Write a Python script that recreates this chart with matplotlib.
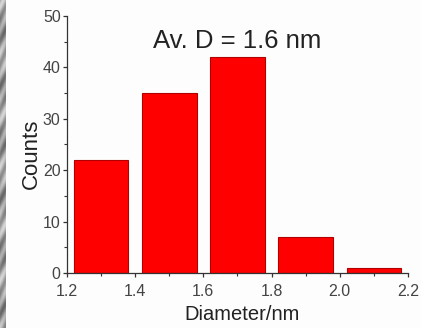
import numpy as np
import matplotlib
matplotlib.use("Agg")
import matplotlib.pyplot as plt

plt.rcParams['font.family'] = ['Liberation Sans', 'DejaVu Sans']

# Particle size histogram
bin_centers = [1.3, 1.5, 1.7, 1.9, 2.1]
counts = [22, 35, 42, 7, 1]
bin_width = 0.16
x_ticks = [1.2, 1.4, 1.6, 1.8, 2.0, 2.2]
y_ticks = [0, 10, 20, 30, 40, 50]

fig = plt.figure(figsize=(4.21, 3.28), dpi=100)
fig.patch.set_facecolor('#fdfdfd')

# textured grey strip along the left edge
strip = fig.add_axes([0, 0, 0.013, 1])
yy = np.linspace(0, 1, 328)[:, None]
xx = np.linspace(0, 1, 6)[None, :]
tex = 0.62 + 0.14 * np.sin(yy * 90 + xx * 3) + 0.08 * np.sin(yy * 37 + 1.3)
strip.imshow(tex, cmap='gray', vmin=0, vmax=1, aspect='auto', interpolation='bilinear')
strip.axis('off')

ax = fig.add_axes([0.159, 0.168, 0.810, 0.783])
ax.set_facecolor('#fdfdfd')
ax.bar(bin_centers, counts, width=bin_width, color='#ff0000', edgecolor='#b00000', linewidth=0.8)

ax.set_xlim(1.2, 2.2)
ax.set_ylim(0, 50)
ax.set_xticks(x_ticks)
ax.set_xticklabels([f"{v:.1f}" for v in x_ticks])
ax.set_yticks(y_ticks)
ax.set_xticks(np.arange(1.3, 2.2, 0.2), minor=True)
ax.set_yticks(np.arange(5, 50, 10), minor=True)

for s in ('top', 'right'):
    ax.spines[s].set_visible(False)
for s in ('left', 'bottom'):
    ax.spines[s].set_color('#333333')
    ax.spines[s].set_linewidth(0.9)

ax.tick_params(which='major', direction='out', length=3, width=0.9, color='#333333',
               labelsize=11.5, labelcolor='#444444')
ax.tick_params(axis='x', which='major', pad=5)
ax.tick_params(axis='y', which='major', pad=1.5)
ax.tick_params(which='minor', direction='out', length=2, width=0.8, color='#333333')

ax.set_xlabel('Diameter/nm', fontsize=14.5, color='#222222')
ax.xaxis.set_label_coords(0.515, -0.124)
ax.set_ylabel('Counts', fontsize=16, color='#222222')
ax.yaxis.set_label_coords(-0.074, 0.463)
ax.text(0.5, 0.903, 'Av. D = 1.6 nm', transform=ax.transAxes, ha='center', va='center',
        fontsize=18.5, color='#222222')

fig.savefig('out.png', dpi=100, facecolor=fig.get_facecolor())
